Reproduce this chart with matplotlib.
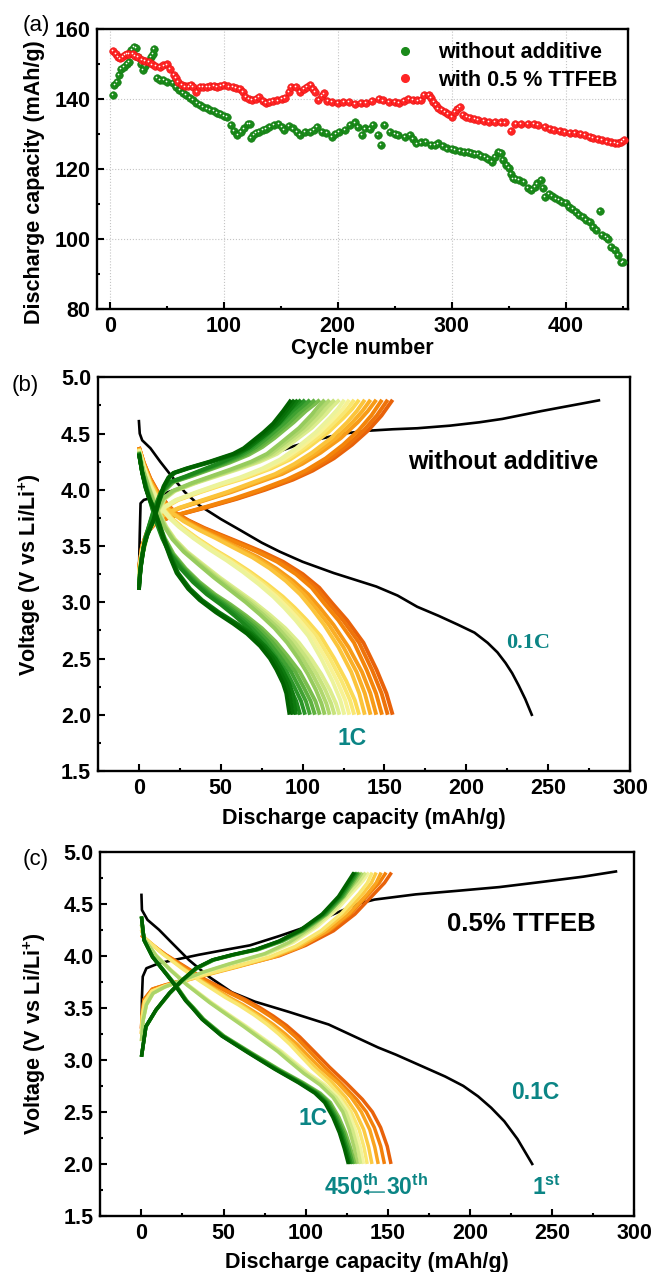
import matplotlib
matplotlib.use('Agg')
import matplotlib.pyplot as plt
import matplotlib.transforms as mtransforms
from matplotlib.colors import LinearSegmentedColormap
from matplotlib.ticker import MultipleLocator
from matplotlib.lines import Line2D

plt.rcParams['font.family'] = ['Liberation Sans', 'DejaVu Sans']
plt.rcParams['font.weight'] = 'bold'
plt.rcParams['mathtext.fontset'] = 'custom'
plt.rcParams['mathtext.rm'] = 'Liberation Sans:bold'
plt.rcParams['mathtext.bf'] = 'Liberation Sans:bold'
plt.rcParams['mathtext.it'] = 'Liberation Sans:bold'

# ---------------- (a) cycling data ----------------
green_cycles = [3, 4, 6, 8, 10, 12, 15, 17, 19, 21, 23, 25, 27, 29, 31, 34, 36, 38, 39, 41, 44, 47, 50,
                55, 58, 61, 64, 67, 70, 73, 76, 79, 82, 85, 88, 91, 94, 97, 100, 103, 106, 109, 112,
                115, 118, 121, 123, 124, 126, 128, 131, 134, 137, 140, 144, 148, 151, 153, 157, 161,
                164, 167, 171, 176, 179, 182, 186, 190, 195, 198, 201, 206, 211, 215, 218, 221, 224,
                228, 231, 235, 238, 241, 246, 250, 253, 259, 263, 266, 269, 273, 277, 282, 285, 288,
                292, 296, 300, 303, 307, 311, 314, 317, 320, 323, 326, 329, 332, 335, 338, 341, 343,
                345, 348, 350, 352, 354, 356, 359, 363, 367, 370, 373, 375, 378, 380, 382, 385, 388,
                391, 394, 397, 400, 403, 406, 409, 412, 415, 418, 421, 424, 427, 430, 432, 435, 437,
                440, 443, 446, 449, 450]
green_capacity = [141.1, 144, 145, 147, 148.5, 149.2, 150, 150.5, 154, 155, 154.5, 152, 150, 148.3,
                  149.5, 151, 152, 153, 154.3, 146, 145.4, 145.5, 145, 144.5, 143.5, 142.6, 141.8,
                  141.1, 140.3, 139.7, 139, 138.3, 137.8, 137.3, 136.9, 136.6, 136, 135.8, 135.2,
                  134.8, 132.6, 131, 129.8, 130.5, 131.6, 133, 132.8, 128.8, 129.8, 130.2, 130.6,
                  131.1, 131.5, 132, 132.6, 132.8, 132, 131.1, 132.3, 131.6, 130.5, 129.7, 130.7,
                  130.7, 131.2, 132.1, 130.7, 130.2, 129.2, 130, 130.7, 131.1, 132.6, 133.3, 132.1,
                  129.7, 131.6, 131.5, 132.6, 129.7, 127, 132.6, 130.7, 130, 129.7, 129.2, 129.7,
                  128.5, 127.3, 127.6, 127.8, 126.9, 127, 127.3, 126.5, 125.9, 125.7, 125.4, 125.2,
                  125, 124.8, 124.5, 124.3, 124.2, 123.8, 123.5, 122.8, 122.1, 123.5, 125, 124.6,
                  122.6, 121.2, 120.2, 118.5, 117.3, 117.1, 116.9, 116.4, 114.5, 114, 115, 115.9,
                  116.9, 114.5, 112.1, 113, 112.3, 111.6, 111.2, 110.7, 110.2, 109.2, 108.5, 107.8,
                  107, 106.4, 105.5, 104.8, 103.5, 102.5, 108.1, 101.1, 100.5, 100, 97.8, 96.8,
                  95.5, 93.3, 93.5]

red_cycles = [3, 5, 7, 9, 11, 13, 15, 17, 20, 22, 25, 28, 31, 34, 37, 40, 44, 47, 50, 53, 56, 58, 60,
              63, 66, 69, 71, 73, 76, 79, 82, 85, 88, 91, 94, 97, 100, 104, 108, 111, 114, 117, 119,
              122, 125, 128, 131, 134, 137, 140, 143, 147, 151, 154, 157, 159, 163, 167, 170, 173,
              176, 178, 180, 183, 186, 188, 191, 195, 200, 205, 210, 215, 220, 225, 230, 236, 240,
              245, 250, 254, 258, 262, 266, 270, 273, 276, 280, 282, 284, 286, 288, 291, 294, 297,
              300, 303, 305, 307, 310, 313, 316, 320, 323, 328, 333, 338, 343, 347, 352, 356, 361,
              367, 372, 376, 382, 386, 390, 395, 399, 404, 408, 413, 417, 421, 424, 428, 432, 436,
              440, 443, 446, 449, 451]
red_capacity = [153.7, 153, 152, 151.6, 152, 152.6, 152.8, 153, 152.8, 152.4, 152, 151.1, 150.8,
                150.6, 149.9, 149.5, 149.2, 149.6, 149.9, 148.7, 147, 146, 145, 144, 143.6, 143.6,
                144, 143.5, 142.1, 143.5, 143.5, 143.5, 143.6, 143.7, 143.5, 143.8, 144, 143.6,
                143.5, 143.2, 143, 142, 140.7, 140, 139.7, 140, 140.7, 139.5, 138.8, 139.2, 139.4,
                139.6, 140, 140.4, 142, 143.5, 143.5, 142.1, 142.8, 143.5, 144, 143, 142.1, 139.7,
                140.8, 141.6, 139.5, 139.2, 139, 139.1, 139.2, 138.6, 139, 138.8, 139.4, 140, 139.6,
                139.2, 139.1, 139, 139.5, 140, 139.7, 139.6, 139.7, 141.1, 141.1, 140.3, 139.2,
                138.2, 137.3, 136.8, 136.4, 135.7, 135, 136.4, 137.2, 137.8, 135.4, 134.8, 134.5,
                134.2, 134, 133.8, 133.5, 133.4, 133.3, 133.3, 130.9, 133, 133, 133, 132.8, 132.6,
                132.1, 131.5, 131.1, 130.9, 130.7, 130.4, 130.2, 130, 129.7, 129.2, 128.8, 128.5,
                128.3, 127.9, 127.6, 127.4, 127.3, 127.8, 128.3]

# ---------------- (b) without additive ----------------
b_first_dis_q = [0, 0.5, 2, 7, 13, 20, 28, 37, 50, 62, 75, 86, 100, 119, 132, 145, 158, 170, 183, 195,
                 205, 213, 219, 224, 228, 232, 236, 240]
b_first_dis_v = [4.61, 4.5, 4.44, 4.37, 4.25, 4.12, 3.98, 3.86, 3.74, 3.64, 3.53, 3.45, 3.36, 3.26,
                 3.20, 3.14, 3.06, 2.96, 2.88, 2.80, 2.73, 2.64, 2.555, 2.46, 2.37, 2.26, 2.14, 2.0]
b_first_chg_q = [0, 0.5, 1, 3, 8, 20, 35, 50, 65, 80, 95, 110, 125, 140, 155, 170, 190, 208, 222, 234,
                 246, 257, 270, 281]
b_first_chg_v = [3.25, 3.6, 3.88, 3.91, 3.93, 3.99, 4.06, 4.14, 4.22, 4.31, 4.39, 4.45, 4.50, 4.525,
                 4.538, 4.547, 4.57, 4.60, 4.63, 4.665, 4.70, 4.73, 4.765, 4.795]

# key 1C discharge curves, orange (30th) -> dark green (450th)
b_dis_keys_q = [
    [0, 3, 7, 12, 18, 23, 30, 40, 50, 63.5, 75, 88, 100, 110, 118, 127, 137, 145, 151, 154.8],
    [0, 3, 7, 12, 17, 21, 28, 38, 48, 60, 71, 82, 92, 101, 108, 116, 125, 133, 138, 141.5],
    [0, 3, 7, 11, 15, 19, 25, 34, 44, 55, 65, 75, 84, 91, 98, 106, 114, 121, 126, 128.5],
    [0, 2.5, 6, 9, 12, 16, 21, 28, 37, 47, 57, 67, 76, 85, 93, 100, 106, 111, 114.5, 116.5],
    [0, 2, 5, 8, 11, 15, 20, 27, 35, 44, 53, 62, 71, 79, 86, 93, 98, 102, 104.5],
    [0, 2, 4, 6, 9, 12, 15, 19, 23, 30, 37, 47, 57.5, 66, 74, 80, 84, 88, 90, 92],
]
b_dis_keys_v = [
    [4.38, 4.24, 4.10, 3.97, 3.86, 3.79, 3.73, 3.66, 3.60, 3.52, 3.45, 3.36, 3.25, 3.13, 2.99, 2.84,
     2.64, 2.40, 2.19, 2.0],
    [4.37, 4.22, 4.07, 3.94, 3.84, 3.79, 3.72, 3.64, 3.57, 3.48, 3.40, 3.30, 3.19, 3.07, 2.95, 2.80,
     2.60, 2.38, 2.19, 2.0],
    [4.36, 4.20, 4.04, 3.92, 3.82, 3.75, 3.67, 3.57, 3.47, 3.37, 3.27, 3.16, 3.05, 2.95, 2.84, 2.70,
     2.50, 2.30, 2.13, 2.0],
    [4.34, 4.18, 4.02, 3.90, 3.79, 3.67, 3.56, 3.45, 3.34, 3.22, 3.11, 3.00, 2.89, 2.77, 2.64, 2.50,
     2.36, 2.22, 2.10, 2.0],
    [4.33, 4.16, 4.00, 3.86, 3.72, 3.57, 3.43, 3.30, 3.18, 3.07, 2.98, 2.88, 2.77, 2.65, 2.52, 2.38,
     2.24, 2.12, 2.0],
    [4.32, 4.15, 4.02, 3.93, 3.83, 3.70, 3.56, 3.40, 3.26, 3.12, 3.02, 2.91, 2.81, 2.72, 2.61, 2.50,
     2.40, 2.28, 2.19, 2.0],
]
# key 1C charge curves, orange -> dark green
b_chg_keys_q = [
    [0, 2, 5, 10, 18, 27.5, 43, 60, 77, 94, 106, 119, 130, 140, 148, 154.8],
    [0, 2, 5, 10, 17, 25, 40, 55, 70, 85, 97, 108, 120, 130, 136, 141],
    [0, 2, 5, 10, 16, 23, 36, 50, 63, 77, 88, 98, 110, 119, 124, 128],
    [0, 2, 5, 10, 15, 21, 33, 45, 57, 70, 80, 88, 100, 108, 112, 116],
    [0, 1.5, 4, 9, 14, 20, 30, 41, 52, 63, 71, 78, 89, 96, 101, 104],
    [0, 1, 3, 5, 8.8, 12, 15, 18, 21, 29, 43, 57.5, 64, 70, 76, 82, 88, 93],
]
b_chg_keys_v = [
    [3.30, 3.50, 3.62, 3.70, 3.75, 3.79, 3.85, 3.92, 4.00, 4.09, 4.17, 4.28, 4.40, 4.53, 4.66, 4.80],
    [3.28, 3.48, 3.62, 3.72, 3.79, 3.84, 3.91, 3.98, 4.06, 4.14, 4.23, 4.33, 4.46, 4.60, 4.70, 4.80],
    [3.25, 3.46, 3.62, 3.75, 3.85, 3.91, 3.98, 4.05, 4.11, 4.19, 4.27, 4.37, 4.51, 4.64, 4.72, 4.80],
    [3.20, 3.42, 3.60, 3.78, 3.92, 3.99, 4.06, 4.12, 4.18, 4.25, 4.32, 4.41, 4.55, 4.67, 4.74, 4.80],
    [3.15, 3.38, 3.57, 3.80, 3.98, 4.07, 4.12, 4.18, 4.24, 4.31, 4.38, 4.46, 4.60, 4.70, 4.76, 4.80],
    [3.11, 3.30, 3.50, 3.60, 3.73, 3.90, 4.03, 4.11, 4.15, 4.19, 4.25, 4.32, 4.37, 4.44, 4.51, 4.59,
     4.70, 4.80],
]
# end capacities of each plotted 1C curve (30th ... 450th) and its nearest key curve
b_dis_end = [155, 152, 148.5, 145, 141.5, 138, 134.5, 131.5, 128.5, 125.5, 122.5, 119.5, 116.5,
             113.5, 110.5, 107.5, 104.5, 101.5, 98.5, 96, 94, 92]
b_chg_end = [155, 152, 148.5, 145, 141.5, 138, 134.5, 131.5, 128.5, 125.5, 122.5, 119.5, 116.5,
             113.5, 110.5, 107.5, 104.5, 101.5, 99, 97, 95, 93]
b_key = [0, 0, 0, 1, 1, 1, 2, 2, 2, 2, 3, 3, 3, 3, 4, 4, 4, 4, 4, 5, 5, 5]

# ---------------- (c) 0.5% TTFEB ----------------
c_first_dis_q = [0, 0.3, 3.7, 10.7, 18.8, 28.9, 41, 55, 69, 90, 114, 144, 155, 165, 175, 185, 196,
                 205, 213, 221, 229, 238]
c_first_dis_v = [4.585, 4.44, 4.345, 4.25, 4.12, 3.96, 3.80, 3.65, 3.56, 3.46, 3.34, 3.12, 3.05, 2.98,
                 2.91, 2.84, 2.75, 2.65, 2.54, 2.41, 2.24, 2.0]
c_first_chg_q = [0, 0.3, 0.8, 3, 11, 23, 35, 52, 66, 84, 97, 117, 132, 142, 167, 193, 218, 244, 269, 289]
c_first_chg_v = [3.2, 3.6, 3.8, 3.88, 3.93, 3.97, 4.01, 4.06, 4.10, 4.19, 4.26, 4.40, 4.50, 4.54, 4.59,
                 4.625, 4.66, 4.71, 4.76, 4.81]

c_dis_keys_q = [
    [0, 2.7, 14.8, 27, 39, 55, 63, 72, 80, 88, 96, 106, 114, 124, 134, 140, 145, 149, 151.3],
    [0, 2, 13, 25, 37, 52, 60, 70, 78, 85, 92, 98, 106, 116, 124, 130, 135, 138, 140],
    [0, 1.8, 9, 18, 28, 42, 52, 63, 77, 84, 90, 100, 110, 118, 124, 128, 131, 133],
    [0, 1.6, 6.7, 14.8, 20.8, 26.9, 31, 37, 49, 65, 81.5, 96, 106, 112, 117, 121, 124, 126.5],
]
c_dis_keys_v = [
    [4.20, 4.15, 4.01, 3.89, 3.77, 3.64, 3.58, 3.50, 3.42, 3.33, 3.22, 3.06, 2.93, 2.78, 2.62, 2.50,
     2.35, 2.17, 2.0],
    [4.25, 4.17, 4.02, 3.88, 3.75, 3.60, 3.53, 3.43, 3.34, 3.25, 3.15, 3.05, 2.92, 2.78, 2.64, 2.50,
     2.33, 2.16, 2.0],
    [4.30, 4.16, 4.00, 3.86, 3.72, 3.55, 3.44, 3.32, 3.16, 3.08, 3.00, 2.87, 2.76, 2.64, 2.50, 2.33,
     2.16, 2.0],
    [4.377, 4.15, 3.99, 3.83, 3.71, 3.57, 3.50, 3.39, 3.23, 3.07, 2.91, 2.78, 2.68, 2.59, 2.45, 2.30,
     2.15, 2.0],
]
c_chg_keys_q = [
    [0, 0.5, 1.6, 6.7, 14.8, 27, 41, 59, 84, 100, 117, 130, 142, 148, 152.3],
    [0, 0.6, 2, 6.5, 14.5, 26, 40, 57, 80, 96, 112, 125, 136, 141, 144],
    [0, 1, 3, 7, 14, 24, 37, 53, 75, 90, 104, 116, 126, 131, 134.5],
    [0, 2.7, 8.8, 16.9, 25, 33, 43.1, 55.3, 69.4, 83.6, 96, 110, 120, 129.4],
]
c_chg_keys_v = [
    [3.30, 3.45, 3.58, 3.68, 3.72, 3.77, 3.83, 3.90, 4.00, 4.10, 4.24, 4.40, 4.60, 4.70, 4.80],
    [3.25, 3.42, 3.56, 3.66, 3.71, 3.76, 3.82, 3.89, 3.99, 4.09, 4.24, 4.41, 4.60, 4.70, 4.80],
    [3.18, 3.38, 3.53, 3.64, 3.70, 3.76, 3.84, 3.92, 4.02, 4.13, 4.28, 4.45, 4.63, 4.72, 4.80],
    [3.03, 3.32, 3.48, 3.64, 3.77, 3.88, 3.96, 4.01, 4.06, 4.14, 4.24, 4.40, 4.57, 4.80],
]
c_dis_end = [152, 148, 144.2, 140.4, 137.5, 135.3, 133.5, 131.5, 130, 128.8, 127.7, 126.8, 126]
c_chg_end = [152.3, 149, 146, 143, 140.5, 138.5, 136.5, 134.5, 133, 132, 131, 130, 129.4]
c_key = [0, 0, 1, 1, 1, 2, 2, 2, 3, 3, 3, 3, 3]

# ---------------- styling ----------------
TEAL = '#0b8585'
GREEN = '#1a8a1a'
RED = '#ff2525'
grad = LinearSegmentedColormap.from_list(
    'og', ['#e8620a', '#f5870a', '#fbb42a', '#fbe05a', '#f6f6a2', '#d3ea86',
           '#a2d064', '#66b542', '#2c972a', '#0f7c10', '#006200'])

fig = plt.figure(figsize=(6.53, 12.72), dpi=100)
W, H = 653.0, 1272.0


def add_axes(l, r, t, b):
    return fig.add_axes([l / W, (H - b) / H, (r - l) / W, (b - t) / H])


def style(ax, xmaj, xmin, ymaj, ymin):
    for s in ax.spines.values():
        s.set_linewidth(1.7)
    ax.xaxis.set_major_locator(MultipleLocator(xmaj))
    ax.xaxis.set_minor_locator(MultipleLocator(xmin))
    ax.yaxis.set_major_locator(MultipleLocator(ymaj))
    ax.yaxis.set_minor_locator(MultipleLocator(ymin))
    ax.tick_params(which='both', direction='in', width=1.5, top=False, right=False,
                   labelsize=15.5, pad=5)
    ax.tick_params(which='major', length=5)
    ax.tick_params(which='minor', length=2.5)


# ---- panel (a)
ax = add_axes(97.3, 628.3, 29, 309)
ax.set_xlim(-11, 455)
ax.set_ylim(80, 160)
style(ax, 100, 50, 20, 10)
ax.grid(True, which='major', linestyle=':', color='#c4c4c4', linewidth=0.8)
ax.set_axisbelow(True)
hl = mtransforms.offset_copy(ax.transData, fig=fig, x=-0.6, y=0.6, units='points')
ax.scatter(green_cycles, green_capacity, s=30, color=GREEN, edgecolors='#137a13', linewidths=0.4, zorder=3)
ax.scatter(green_cycles, green_capacity, s=1.5, color='white', transform=hl, zorder=3.1, linewidths=0)
ax.scatter(red_cycles, red_capacity, s=30, color=RED, edgecolors='#e81010', linewidths=0.4, zorder=4)
ax.scatter(red_cycles, red_capacity, s=1.5, color='white', transform=hl, zorder=4.1, linewidths=0)
handles = [Line2D([], [], marker='o', ls='', markersize=5.5, markerfacecolor=GREEN, markeredgecolor=GREEN),
           Line2D([], [], marker='o', ls='', markersize=5.5, markerfacecolor=RED, markeredgecolor=RED)]
leg = ax.legend(handles, ['without additive', 'with 0.5 % TTFEB'], loc='upper left',
                bbox_to_anchor=(0.523, 1.022), frameon=False, fontsize=15.5,
                handletextpad=1.03, labelspacing=0.3, handlelength=1.0)
ax.set_xlabel('Cycle number', fontsize=15.5, fontweight='bold')
ax.set_ylabel('Discharge capacity (mAh/g)', fontsize=15.5, fontweight='bold')
ax.xaxis.set_label_coords(0.5, -0.105)
ax.yaxis.set_label_coords(-0.098, 0.454)
fig.text(36.5 / W, 1 - 25 / H, '(a)', ha='center', va='center', fontsize=16, fontweight='normal')


def draw_family(ax, dis_q, dis_v, chg_q, chg_v, dis_end, chg_end, keys, lw):
    n = len(dis_end)
    for i in range(n):
        col = grad(i / (n - 1))
        k = keys[i]
        sc = dis_end[i] / dis_q[k][-1]
        ax.plot([x * sc for x in dis_q[k]], dis_v[k], color=col, lw=lw,
                solid_capstyle='butt', solid_joinstyle='round', zorder=3)
        sc = chg_end[i] / chg_q[k][-1]
        ax.plot([x * sc for x in chg_q[k]], chg_v[k], color=col, lw=lw,
                solid_capstyle='butt', solid_joinstyle='round', zorder=3)


# ---- panel (b)
ax = add_axes(98, 630, 377.3, 771)
ax.set_xlim(-25, 300)
ax.set_ylim(1.5, 5.0)
style(ax, 50, 25, 0.5, 0.25)
ax.plot(b_first_chg_q, b_first_chg_v, color='black', lw=1.9, zorder=2, solid_joinstyle='round')
ax.plot(b_first_dis_q, b_first_dis_v, color='black', lw=1.9, zorder=2, solid_joinstyle='round')
draw_family(ax, b_dis_keys_q, b_dis_keys_v, b_chg_keys_q, b_chg_keys_v,
            b_dis_end, b_chg_end, b_key, 2.8)
ax.text(164.4, 4.25, 'without additive', fontsize=18, fontweight='bold', va='center', ha='left')
ax.text(224.5, 2.635, '0.1C', fontsize=16, fontweight='bold', family='Liberation Serif',
        color=TEAL, va='center', ha='left')
ax.text(130, 1.79, '1C', fontsize=16.5, fontweight='bold', color=TEAL, va='center', ha='center')
ax.set_xlabel('Discharge capacity (mAh/g)', fontsize=15.5, fontweight='bold')
ax.set_ylabel('Voltage (V vs Li/Li$^{+}$)', fontsize=15.5, fontweight='bold')
ax.xaxis.set_label_coords(0.5, -0.095)
ax.yaxis.set_label_coords(-0.103, 0.5)
fig.text(25.5 / W, 1 - 385 / H, '(b)', ha='center', va='center', fontsize=16, fontweight='normal')

# ---- panel (c)
ax = add_axes(100.4, 634, 851.7, 1216)
ax.set_xlim(-25, 300)
ax.set_ylim(1.5, 5.0)
style(ax, 50, 25, 0.5, 0.25)
ax.plot(c_first_chg_q, c_first_chg_v, color='black', lw=1.9, zorder=2, solid_joinstyle='round')
ax.plot(c_first_dis_q, c_first_dis_v, color='black', lw=1.9, zorder=2, solid_joinstyle='round')
draw_family(ax, c_dis_keys_q, c_dis_keys_v, c_chg_keys_q, c_chg_keys_v,
            c_dis_end, c_chg_end, c_key, 2.5)
ax.text(186.3, 4.31, '0.5% TTFEB', fontsize=18.5, fontweight='bold', va='center', ha='left')
ax.text(225.4, 2.684, '0.1C', fontsize=16.5, fontweight='bold', color=TEAL, va='center', ha='left')
ax.text(95.6, 2.44, '1C', fontsize=16.5, fontweight='bold', color=TEAL, va='center', ha='left')
ax.text(110.9, 1.775, r'450$^{\mathbf{th}}$', fontsize=16.5, fontweight='bold', color=TEAL,
        va='center', ha='left')
ax.annotate('', xy=(135, 1.73), xytext=(148, 1.73),
            arrowprops=dict(arrowstyle='-|>', color=TEAL, lw=1.0, mutation_scale=7,
                            shrinkA=0, shrinkB=0))
ax.text(149.1, 1.775, r'30$^{\mathbf{th}}$', fontsize=16.5, fontweight='bold', color=TEAL,
        va='center', ha='left')
ax.text(237.6, 1.775, r'1$^{\mathbf{st}}$', fontsize=16.5, fontweight='bold', color=TEAL,
        va='center', ha='left')
ax.set_xlabel('Discharge capacity (mAh/g)', fontsize=15.5, fontweight='bold')
ax.set_ylabel('Voltage (V vs Li/Li$^{+}$)', fontsize=15.5, fontweight='bold')
ax.xaxis.set_label_coords(0.5, -0.098)
ax.yaxis.set_label_coords(-0.099, 0.5)
fig.text(36 / W, 1 - 860 / H, '(c)', ha='center', va='center', fontsize=16, fontweight='normal')

fig.savefig('out.png', dpi=100)
